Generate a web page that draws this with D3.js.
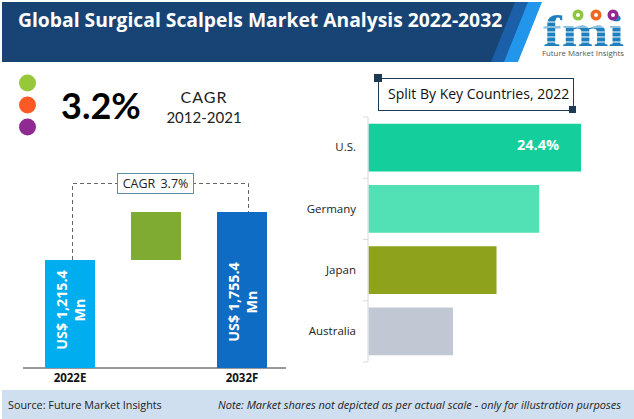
<!DOCTYPE html>
<html>
<head>
<meta charset="utf-8">
<script src="https://cdn.jsdelivr.net/npm/d3@7"></script>
<style>
  html, body { margin: 0; padding: 0; background: #fff; }
  svg { display: block; }
  text { font-family: "Open Sans", sans-serif; }
</style>
</head>
<body>
<svg id="chart" width="634" height="419"></svg>
<script>
// values
var years = ["2022E", "2032F"];
var marketValues = [1215.4, 1755.4];
var marketLabels = ["US$ 1,215.4", "US$ 1,755.4"];
var countries = ["U.S.", "Germany", "Japan", "Australia"];
var countryShares = [24.4, 19.6, 14.7, 9.7];
var countryColors = ["#14cf9c", "#52e0b5", "#8fa21c", "#c1c8d4"];
var dotColors = ["#97c83c", "#fb5a26", "#8e2a92"];

var svg = d3.select("#chart");

// header band
svg.append("path").attr("d", "M2,2H542L518,62H2Z").attr("fill", "#2196ea");
svg.append("path").attr("d", "M2,2H528L504,62H2Z").attr("fill", "#1a5fa8");
svg.append("path").attr("d", "M2,2H515L491,62H2Z").attr("fill", "#174474");
svg.append("text").attr("x", 18).attr("y", 27)
  .attr("font-size", 19.3).attr("font-weight", 700).attr("fill", "#fff")
  .text("Global Surgical Scalpels Market Analysis 2022-2032");

// logo
var logo = svg.append("g");
logo.append("text").attr("x", 543).attr("y", 46)
  .attr("textLength", 81).attr("lengthAdjust", "spacingAndGlyphs")
  .style("font-family", "'Liberation Serif', serif")
  .attr("font-size", 44).attr("font-weight", 700).attr("fill", "#2080bd").text("fmi");
[22, 27, 32, 37, 42].forEach(function (y) {
  logo.append("line").attr("x1", 540).attr("x2", 630).attr("y1", y).attr("y2", y)
    .attr("stroke", "#fff").attr("stroke-width", 1);
});
[[578, "#8dc63f"], [596, "#f26522"], [613, "#92278f"]].forEach(function (c) {
  logo.append("circle").attr("cx", c[0]).attr("cy", 15).attr("r", 5.5).attr("fill", c[1]);
  logo.append("circle").attr("cx", c[0]).attr("cy", 15).attr("r", 2).attr("fill", "#fff");
});
logo.append("text").attr("x", 542).attr("y", 56).attr("textLength", 82)
  .attr("lengthAdjust", "spacingAndGlyphs")
  .attr("font-size", 7.5).attr("fill", "#555").text("Future Market Insights");

// dots and CAGR figure
var dotY = d3.scalePoint().domain(d3.range(dotColors.length)).range([83, 127]);
svg.selectAll(".dot").data(dotColors).enter().append("circle")
  .attr("class", "dot").attr("cx", 27.5)
  .attr("cy", function (d, i) { return dotY(i); })
  .attr("r", 8.5).attr("fill", function (d) { return d; });
svg.append("text").attr("x", 61).attr("y", 119)
  .style("font-family", "Lato, sans-serif")
  .attr("font-size", 36).attr("font-weight", 700).attr("fill", "#000").text("3.2%");
svg.append("text").attr("x", 204).attr("y", 103).attr("text-anchor", "middle")
  .style("font-family", "Lato, sans-serif").style("letter-spacing", "1px")
  .attr("font-size", 16).attr("fill", "#222").text("CAGR");
svg.append("text").attr("x", 204).attr("y", 123).attr("text-anchor", "middle")
  .style("font-family", "Lato, sans-serif")
  .attr("font-size", 15).attr("fill", "#222").text("2012-2021");

// left chart: market value bars
var baseY = 368;
var x = d3.scalePoint().domain(years).range([70, 242]);
var y = d3.scaleLinear().domain([0, 1755.4]).range([baseY, 212]);
var barW = 50;
var barColors = ["#00adef", "#0f6cc4"];

svg.append("line").attr("x1", 23).attr("x2", 286).attr("y1", baseY).attr("y2", baseY)
  .attr("stroke", "#333").attr("stroke-width", 1);

svg.selectAll(".bar").data(years).enter().append("rect")
  .attr("class", "bar")
  .attr("x", function (d) { return x(d) - barW / 2; })
  .attr("y", function (d, i) { return y(marketValues[i]); })
  .attr("width", barW)
  .attr("height", function (d, i) { return baseY - y(marketValues[i]); })
  .attr("fill", function (d, i) { return barColors[i]; });

// green block is the gap between the two values
svg.append("rect").attr("x", 131).attr("width", barW)
  .attr("y", y(marketValues[1]))
  .attr("height", y(marketValues[0]) - y(marketValues[1]))
  .attr("fill", "#7fab33");

svg.selectAll(".year").data(years).enter().append("text")
  .attr("class", "year")
  .attr("x", function (d) { return x(d); }).attr("y", 382)
  .attr("text-anchor", "middle").attr("font-size", 11.5).attr("font-weight", 700).attr("fill", "#111")
  .text(function (d) { return d; });

years.forEach(function (d, i) {
  var cy = i == 0 ? 310 : 302;
  var t = svg.append("text")
    .attr("transform", "translate(" + x(d) + "," + cy + ") rotate(-90)")
    .attr("text-anchor", "middle").attr("font-size", 14.3).attr("font-weight", 700).attr("fill", "#fff");
  t.append("tspan").attr("x", 0).attr("dy", -3).text(marketLabels[i]);
  t.append("tspan").attr("x", 0).attr("dy", 18).text("Mn");
});

// dashed CAGR bracket
svg.append("path")
  .attr("d", d3.line()([[x(years[0]) + 2.5, y(marketValues[0])], [x(years[0]) + 2.5, 183.5], [x(years[1]) + 6.5, 183.5], [x(years[1]) + 6.5, y(marketValues[1])]]))
  .attr("fill", "none").attr("stroke", "#666").attr("stroke-dasharray", "4,3");
svg.append("rect").attr("x", 117.5).attr("y", 173.5).attr("width", 76).attr("height", 20)
  .attr("fill", "#fff").attr("stroke", "#5f8ca8");
svg.append("text").attr("x", 155.5).attr("y", 188).attr("text-anchor", "middle")
  .style("word-spacing", "2px")
  .attr("font-size", 12.5).attr("fill", "#222").text("CAGR 3.7%");

// right chart: split by country
var yBand = d3.scaleBand().domain(countries).range([117, 362]).paddingInner(0.22).paddingOuter(0.11);
var xShare = d3.scaleLinear().domain([0, 24.4]).range([368.5, 581]);

svg.selectAll(".hbar").data(countries).enter().append("rect")
  .attr("class", "hbar")
  .attr("x", xShare(0))
  .attr("y", function (d) { return yBand(d); })
  .attr("width", function (d, i) { return xShare(countryShares[i]) - xShare(0); })
  .attr("height", yBand.bandwidth())
  .attr("fill", function (d, i) { return countryColors[i]; });

var yAxis = d3.axisLeft(yBand).tickSize(0).tickPadding(12);
var axisG = svg.append("g").attr("transform", "translate(368,0)").call(yAxis);
axisG.select(".domain").remove();
axisG.selectAll("text").attr("font-size", 11.5).attr("fill", "#222").style("font-family", "'Open Sans', sans-serif");

// bracket style axis line with ticks between bands
var step = (362 - 117) / countries.length;
var tickYs = d3.range(countries.length + 1).map(function (i) { return 117 + i * step; });
svg.append("line").attr("x1", 368).attr("x2", 368).attr("y1", 117).attr("y2", 362)
  .attr("stroke", "#d9d9d9").attr("stroke-width", 1);
svg.selectAll(".sep").data(tickYs).enter().append("line")
  .attr("class", "sep").attr("x1", 363).attr("x2", 368)
  .attr("y1", function (d) { return d; }).attr("y2", function (d) { return d; })
  .attr("stroke", "#d9d9d9");

svg.append("text").attr("x", xShare(24.4) - 22).attr("y", 150).attr("text-anchor", "end")
  .attr("font-size", 14.5).attr("font-weight", 700).attr("fill", "#fff").text(countryShares[0].toFixed(1) + "%");

// title box for the right chart
svg.append("rect").attr("x", 378.5).attr("y", 78.5).attr("width", 195).attr("height", 32)
  .attr("fill", "#fff").attr("stroke", "#1d3a55");
svg.append("rect").attr("x", 374).attr("y", 74).attr("width", 8).attr("height", 8).attr("fill", "#1d3a55");
svg.append("rect").attr("x", 569).attr("y", 106).attr("width", 7).attr("height", 7).attr("fill", "#1d3a55");
svg.append("text").attr("x", 388).attr("y", 99).attr("font-size", 14).attr("fill", "#111")
  .text("Split By Key Countries, 2022");

// footer
svg.append("rect").attr("x", 2).attr("y", 390).attr("width", 632).attr("height", 29).attr("fill", "#cfdff0");
svg.append("text").attr("x", 8).attr("y", 409).attr("font-size", 10.8).attr("fill", "#222")
  .text("Source: Future Market Insights");
svg.append("text").attr("x", 621).attr("y", 409).attr("text-anchor", "end")
  .attr("font-size", 11).attr("font-style", "italic").attr("fill", "#222")
  .text("Note: Market shares not depicted as per actual scale - only for illustration purposes");
</script>
</body>
</html>
